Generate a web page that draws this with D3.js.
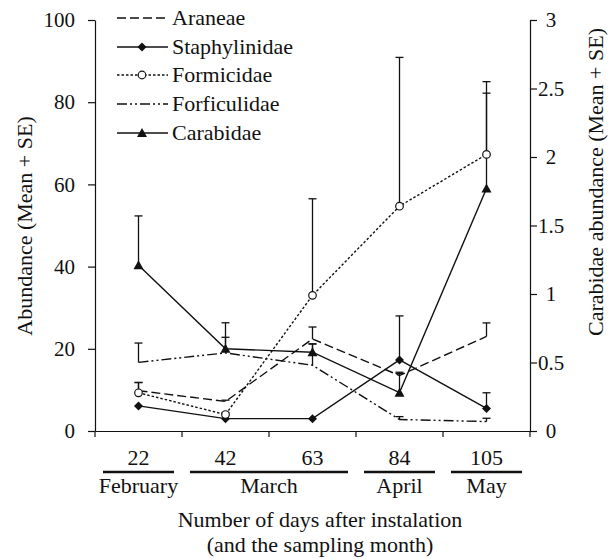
<!doctype html>
<html lang="en">
<head>
<meta charset="UTF-8" />
<script src="https://d3js.org/d3.v7.min.js"></script>
<style>
  body { margin: 0; background: #fff; }
  svg text { font-family: "Liberation Serif", "Times New Roman", Times, serif !important; fill: #111; }
</style>
</head>
<body>
<div id="chart"></div>
<script>
// Sampling days (x categories) and months
const days = ["22", "42", "63", "84", "105"]
const months = ["February", "March", "April", "May"]
const monthFirstDay = ["22", "42", "84", "105"]
const monthLastDay = ["22", "63", "84", "105"]

// Left axis series (mean, SE)
const araneae = [9.8, 7.2, 22.4, 13.5, 23.0]
const araneaeSE = [2.0, 0.3, 2.9, 0.8, 3.3]
const staphylinidae = [6.1, 3.0, 3.0, 17.3, 5.5]
const staphylinidaeSE = [0, 0, 0, 10.7, 3.8]
const formicidae = [9.3, 4.0, 33.0, 54.7, 67.3]
const formicidaeSE = [2.5, 0.5, 23.5, 36.2, 14.9]
const forficulidae = [16.7, 19.0, 16.0, 2.8, 2.3]
const forficulidaeSE = [4.7, 3.8, 5.2, 0.7, 0.8]
// Right axis series
const carabidae = [1.21, 0.6, 0.575, 0.28, 1.77]
const carabidaeSE = [0.36, 0.19, 0.06, 0.14, 0.78]

const leftTicks = [0, 20, 40, 60, 80, 100]
const rightTicks = [0, 0.5, 1, 1.5, 2, 2.5, 3]

const W = 613, H = 559
const plot = { left: 95, right: 530, top: 20, bottom: 431 }
const FONT = '"Liberation Serif", "Times New Roman", Times, serif'

const svg = d3.select("#chart").append("svg")
  .attr("width", W).attr("height", H)
  .attr("font-family", FONT)

const x = d3.scaleBand().domain(days).range([plot.left, plot.right])
const yL = d3.scaleLinear().domain([0, 100]).range([plot.bottom, plot.top])
const yR = d3.scaleLinear().domain([0, 3]).range([plot.bottom, plot.top])
const cx = d => x(d) + x.bandwidth() / 2

// axes
const leftAxis = svg.append("g")
  .attr("transform", `translate(${plot.left},0)`)
  .call(d3.axisLeft(yL).tickValues(leftTicks).tickSize(7).tickPadding(13).tickSizeOuter(0))

const rightAxis = svg.append("g")
  .attr("transform", `translate(${plot.right},0)`)
  .call(d3.axisRight(yR).tickValues(rightTicks).tickFormat(d => String(d)).tickSize(7).tickSizeOuter(0))
rightAxis.selectAll("text").attr("x", 21).attr("text-anchor", "middle")

const bottomAxis = svg.append("g")
  .attr("transform", `translate(0,${plot.bottom})`)
  .call(d3.axisBottom(x).tickSize(0).tickSizeOuter(0))
bottomAxis.selectAll("text").attr("y", 34).attr("dy", 0).style("font-size", "22px")

leftAxis.selectAll("text").style("font-size", "21px")
rightAxis.selectAll("text").style("font-size", "21px")
svg.selectAll("g").attr("font-family", FONT)

// tick marks at category boundaries
const bounds = days.map(d => x(d)).concat([plot.right])
bottomAxis.selectAll(".bound").data(bounds).join("line")
  .attr("class", "bound")
  .attr("x1", d => d).attr("x2", d => d)
  .attr("y1", 0).attr("y2", 6)
  .attr("stroke", "#111")

svg.selectAll(".domain, .tick line, .bound").attr("stroke", "#111").attr("stroke-width", 1.2)
svg.selectAll(".tick text").attr("fill", "#111")

// month underlines and labels
const monthG = svg.append("g")
months.forEach((m, i) => {
  const x0 = x(monthFirstDay[i]) + 8
  const x1 = x(monthLastDay[i]) + x.bandwidth() - 8
  monthG.append("line")
    .attr("x1", x0).attr("x2", x1).attr("y1", 472).attr("y2", 472)
    .attr("stroke", "#111").attr("stroke-width", 2.5)
  monthG.append("text")
    .attr("x", (x0 + x1) / 2).attr("y", 493)
    .attr("text-anchor", "middle").style("font-size", "22px")
    .text(m)
})

// axis titles
svg.append("text").attr("x", 320).attr("y", 527).attr("text-anchor", "middle")
  .style("font-size", "22px").text("Number of days after instalation")
svg.append("text").attr("x", 320).attr("y", 552).attr("text-anchor", "middle")
  .style("font-size", "22px").text("(and the sampling month)")
svg.append("text").attr("transform", "translate(32,226) rotate(-90)")
  .attr("text-anchor", "middle").style("font-size", "22px").text("Abundance (Mean + SE)")
svg.append("text").attr("transform", "translate(603,182) rotate(-90)")
  .attr("text-anchor", "middle").style("font-size", "22px").text("Carabidae abundance (Mean + SE)")

// series definitions
const series = [
  { name: "Araneae", values: araneae, se: araneaeSE, y: yL, dash: "9,4", marker: null },
  { name: "Staphylinidae", values: staphylinidae, se: staphylinidaeSE, y: yL, dash: null, marker: "diamond" },
  { name: "Formicidae", values: formicidae, se: formicidaeSE, y: yL, dash: "2.5,2", marker: "circle" },
  { name: "Forficulidae", values: forficulidae, se: forficulidaeSE, y: yL, dash: "10,3,2,3,2,3", marker: null },
  { name: "Carabidae", values: carabidae, se: carabidaeSE, y: yR, dash: null, marker: "triangle" }
]

const stroke = "#111"

// error bars (upper half only)
series.forEach(s => {
  const g = svg.append("g")
  s.values.forEach((v, i) => {
    if (!s.se[i]) return
    const px = cx(days[i])
    const top = s.y(v + s.se[i])
    g.append("line").attr("x1", px).attr("x2", px)
      .attr("y1", s.y(v)).attr("y2", top)
      .attr("stroke", stroke).attr("stroke-width", 1.3)
    g.append("line").attr("x1", px - 4).attr("x2", px + 4)
      .attr("y1", top).attr("y2", top)
      .attr("stroke", stroke).attr("stroke-width", 1.3)
  })
})

// lines
series.forEach(s => {
  const line = d3.line().x((v, i) => cx(days[i])).y(v => s.y(v))
  svg.append("path").datum(s.values)
    .attr("d", line).attr("fill", "none")
    .attr("stroke", stroke).attr("stroke-width", 1.4)
    .attr("stroke-dasharray", s.dash)
})

function drawMarker(g, type, px, py) {
  if (type === "diamond") {
    g.append("path").attr("d", `M${px},${py - 4.5}L${px + 4.5},${py}L${px},${py + 4.5}L${px - 4.5},${py}Z`)
      .attr("fill", stroke)
  } else if (type === "circle") {
    g.append("circle").attr("cx", px).attr("cy", py).attr("r", 3.8)
      .attr("fill", "#fff").attr("stroke", stroke).attr("stroke-width", 1.2)
  } else if (type === "triangle") {
    g.append("path").attr("d", `M${px},${py - 5}L${px + 5},${py + 4}L${px - 5},${py + 4}Z`)
      .attr("fill", stroke)
  }
}

// markers
series.forEach(s => {
  if (!s.marker) return
  const g = svg.append("g")
  s.values.forEach((v, i) => drawMarker(g, s.marker, cx(days[i]), s.y(v)))
})

// legend
const legend = svg.append("g")
const legendY = [18, 47, 75, 104, 133]
series.forEach((s, i) => {
  const ly = legendY[i]
  legend.append("line").attr("x1", 117).attr("x2", 168).attr("y1", ly).attr("y2", ly)
    .attr("stroke", stroke).attr("stroke-width", 1.4).attr("stroke-dasharray", s.dash)
  if (s.marker) drawMarker(legend, s.marker, 142, ly)
  legend.append("text").attr("x", 172).attr("y", ly + 7)
    .style("font-size", "22px").text(s.name)
})
</script>
</body>
</html>
